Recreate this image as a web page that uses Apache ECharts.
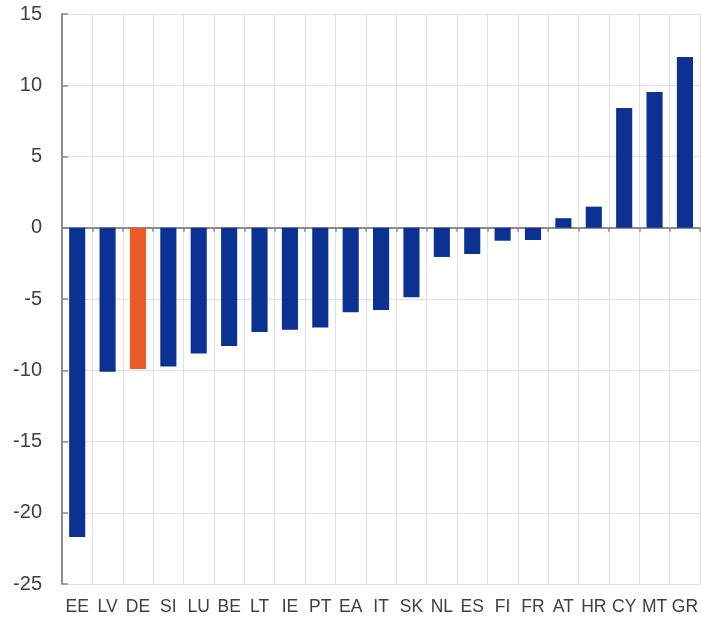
<!DOCTYPE html>
<html>
<head>
<meta charset="utf-8">
<script src="https://cdn.jsdelivr.net/npm/echarts@6/dist/echarts.min.js"></script>
<style>
html,body{margin:0;padding:0;background:#fff;}
#chart{width:701px;height:621px;}
</style>
</head>
<body>
<div id="chart"></div>
<script>
const categories = ['EE','LV','DE','SI','LU','BE','LT','IE','PT','EA','IT','SK','NL','ES','FI','FR','AT','HR','CY','MT','GR'];
const values = [-21.7,-10.1,-9.92,-9.73,-8.83,-8.3,-7.32,-7.16,-7.0,-5.93,-5.77,-4.87,-2.05,-1.84,-0.91,-0.86,0.67,1.48,8.4,9.53,11.98];
const highlighted = ['DE'];
const yTicks = {min: -25, max: 15, interval: 5};

const blue = '#0b3192';
const orange = '#ea5b28';

const chart = echarts.init(document.getElementById('chart'), null, {renderer: 'canvas'});
chart.setOption({
  animation: false,
  backgroundColor: '#ffffff',
  grid: {left: 62, right: -2, top: 14, bottom: 37, containLabel: false},
  xAxis: [
    {
      type: 'category',
      data: categories,
      position: 'bottom',
      axisLine: {show: false, onZero: false},
      axisTick: {show: false},
      axisLabel: {color: '#404040', fontSize: 17.5, fontFamily: 'Liberation Sans, Arial, sans-serif', margin: 14, interval: 0},
      splitLine: {show: true, interval: 0, lineStyle: {color: '#e0e0e0', width: 1}}
    },
    {
      type: 'category',
      data: categories,
      position: 'bottom',
      axisLine: {show: true, onZero: true, lineStyle: {color: '#8c8c8c', width: 2}},
      axisTick: {show: true, interval: 0, length: 4, lineStyle: {color: '#8c8c8c', width: 1.5}},
      axisLabel: {show: false},
      splitLine: {show: false}
    }
  ],
  yAxis: {
    type: 'value',
    min: yTicks.min,
    max: yTicks.max,
    interval: yTicks.interval,
    axisLine: {show: true, lineStyle: {color: '#8c8c8c', width: 2}},
    axisTick: {show: true, inside: true, length: 6, lineStyle: {color: '#8c8c8c', width: 1.5}},
    axisLabel: {color: '#404040', fontSize: 20, fontFamily: 'Liberation Sans, Arial, sans-serif', margin: 20},
    splitLine: {show: true, lineStyle: {color: '#e0e0e0', width: 1}}
  },
  series: [{
    type: 'bar',
    xAxisIndex: 0,
    barWidth: '53%',
    data: values.map((v, i) => ({
      value: v,
      itemStyle: {color: highlighted.includes(categories[i]) ? orange : blue}
    }))
  }]
});
</script>
</body>
</html>
